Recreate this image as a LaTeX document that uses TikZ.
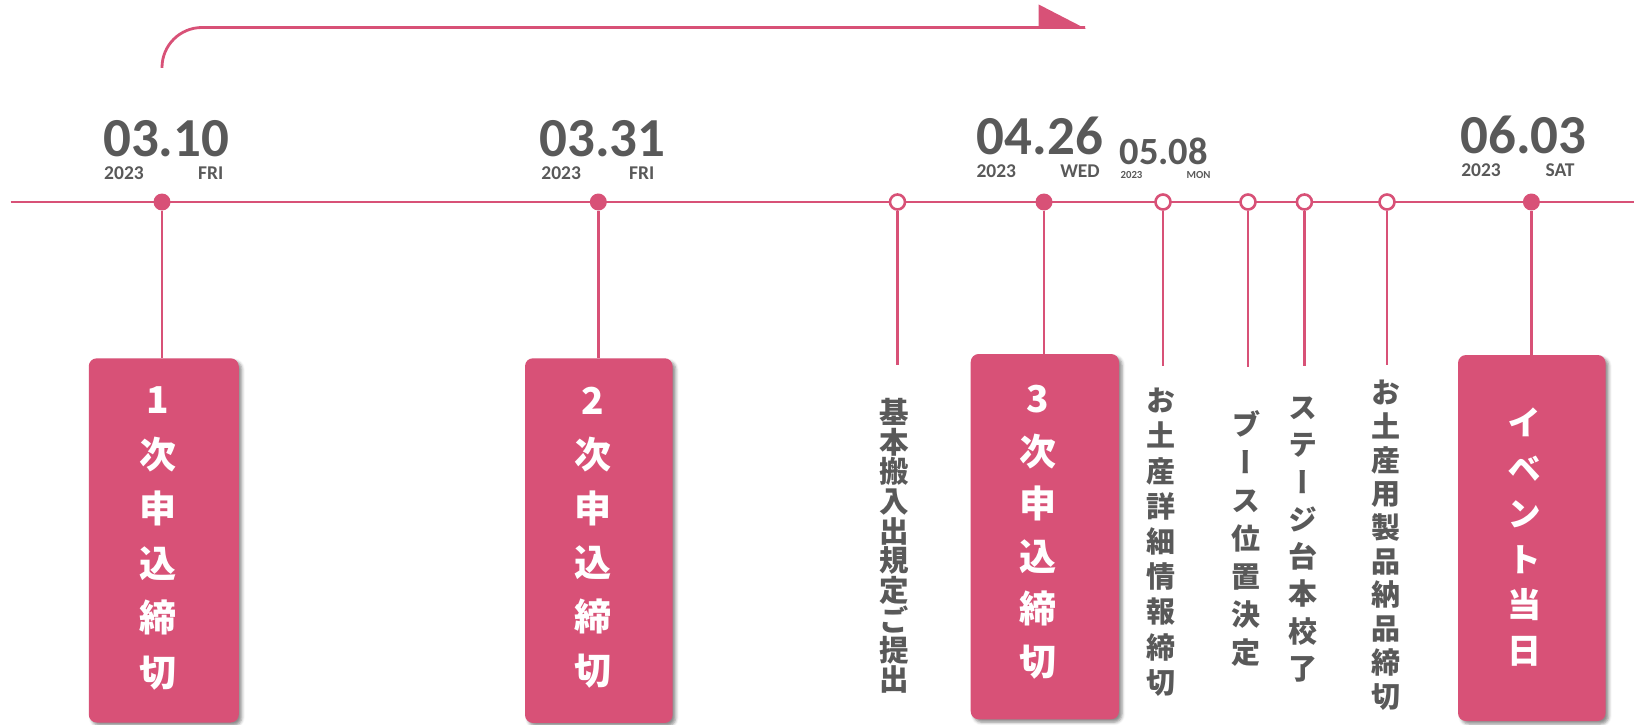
\documentclass[tikz,border=0pt]{standalone}
\usepackage{fontspec}
\setmainfont{Carlito}
\newfontfamily\jp{Noto Sans CJK JP}[RawFeature=+vert]
\usetikzlibrary{shadows.blur}
\definecolor{pk}{RGB}{216,81,119}
\definecolor{tg}{RGB}{89,89,89}
\tikzset{
  axisline/.style={draw=pk, line width=2.8bp},
  arrowline/.style={draw=pk, line width=2.8bp, rounded corners=40bp},
  fdot/.style={circle, fill=pk, inner sep=0pt, minimum size=17bp},
  odot/.style={circle, draw=pk, fill=white, line width=2.6bp, inner sep=0pt, minimum size=15bp},
  stem/.style={draw=pk, line width=2.6bp},
  pbox/.style={rounded corners=8bp, fill=pk, inner sep=0pt,
    blur shadow={shadow xshift=3bp, shadow yshift=-3bp, shadow blur radius=3bp, shadow opacity=45}},
  btxt/.style 2 args={text=white, align=center, inner sep=0pt, anchor=north,
    font=\jp\bfseries\fontsize{#1}{#2}\selectfont},
  ctxt/.style 2 args={text=tg, align=center, inner sep=0pt, anchor=north,
    font=\jp\bfseries\fontsize{#1}{#2}\selectfont},
  dtxt/.style={text=tg, inner sep=0pt, anchor=base, font=\bfseries\fontsize{#1}{#1}\selectfont},
}
\begin{document}
\begin{tikzpicture}[x=1bp,y=-1bp]
\useasboundingbox (0,0) rectangle (1640,725);
% top arrow
\coordinate (as) at (162,68);
\coordinate (ae) at (1085,27.5);
\draw[arrowline] (as) -- (as |- ae) -- (ae);
\fill[pk] (1038.7,4.5) -- (1086,28.9) -- (1038.7,28.9) -- cycle;
% axis
\coordinate (ax1) at (10.5,202);
\coordinate (ax2) at (1634,202);
\draw[axisline] (ax1) -- (ax2);
% dots
\node[fdot] (p1) at (162,202) {};
\node[fdot] (p2) at (598.3,202) {};
\node[odot] (p3) at (897.5,202) {};
\node[fdot] (p4) at (1044,202) {};
\node[odot] (p5) at (1163,202) {};
\node[odot] (p6) at (1248,202) {};
\node[odot] (p7) at (1304.4,202) {};
\node[odot] (p8) at (1387,202) {};
\node[fdot] (p9) at (1531.4,202) {};
% boxes
\node[pbox, minimum width=150bp, minimum height=364.2bp] (b1) at (163.75,540.4) {};
\node[pbox, minimum width=147.6bp, minimum height=364.7bp] (b2) at (598.8,540.6) {};
\node[pbox, minimum width=148.3bp, minimum height=365.3bp] (b3) at (1044.85,536.65) {};
\node[pbox, minimum width=147.6bp, minimum height=366bp] (b4) at (1531.8,538) {};
% stems
\coordinate (e3) at (897.5,365);
\coordinate (e5) at (1163,366);
\coordinate (e6) at (1248,366.7);
\coordinate (e7) at (1304.4,365.7);
\coordinate (e8) at (1387,365);
\draw[stem] (p1.south) -- (p1 |- b1.north);
\draw[stem] (p2.south) -- (p2 |- b2.north);
\draw[stem] (p3.south) -- (e3);
\draw[stem] (p4.south) -- (p4 |- b3.north);
\draw[stem] (p5.south) -- (e5);
\draw[stem] (p6.south) -- (e6);
\draw[stem] (p7.south) -- (e7);
\draw[stem] (p8.south) -- (e8);
\draw[stem] (p9.south) -- (p9 |- b4.north);
% box texts
\node[btxt={37bp}{54.5bp}] (t1) at (157.5,386.7) {1\\次\\申\\込\\締\\切};
\node[btxt={37bp}{54bp}] (t2) at (593,386.7) {2\\次\\申\\込\\締\\切};
\node[btxt={37bp}{52.5bp}] (t3) at (1038,385) {3\\次\\申\\込\\締\\切};
\node[btxt={34bp}{45.5bp}] (t4) at (1524,408) {イ\\ベ\\ン\\ト\\当\\日};
% column texts
\node[ctxt={29.5bp}{29.7bp}] (c3) at (894.7,398) {基\\本\\搬\\入\\出\\規\\定\\ご\\提\\出};
\node[ctxt={29bp}{35.2bp}] (c5) at (1160.6,388) {お\\土\\産\\詳\\細\\情\\報\\締\\切};
\node[ctxt={29bp}{38bp}] (c6) at (1245.5,410) {ブ\\ー\\ス\\位\\置\\決\\定};
\node[ctxt={29bp}{37.3bp}] (c7) at (1302.9,396.7) {ス\\テ\\ー\\ジ\\台\\本\\校\\了};
\node[ctxt={29bp}{33.7bp}] (c8) at (1385.5,380) {お\\土\\産\\用\\製\\品\\納\\品\\締\\切};
% dates
\node[dtxt=55bp] (d1) at (166.3,156.7) {03.10};
\node[dtxt=19.5bp] (y1) at (124,179) {2023};
\node[dtxt=19.5bp] (w1) at (210.7,179) {FRI};
\node[dtxt=55bp] (d2) at (602.5,156.7) {03.31};
\node[dtxt=19.5bp] (y2) at (561.2,179) {2023};
\node[dtxt=19.5bp] (w2) at (641.8,179) {FRI};
\node[dtxt=55bp] (d4) at (1039.8,155) {04.26};
\node[dtxt=19.5bp] (y4) at (996.3,177) {2023};
\node[dtxt=19.5bp] (w4) at (1080,177) {WED};
\node[dtxt=38.5bp] (d5) at (1163.7,164.3) {05.08};
\node[dtxt=10.8bp] (y5) at (1131.5,178) {2023};
\node[dtxt=10.8bp] (w5) at (1198.5,178) {MON};
\node[dtxt=55bp] (d9) at (1523.5,154) {06.03};
\node[dtxt=19.5bp] (y9) at (1481,176) {2023};
\node[dtxt=19.5bp] (w9) at (1560,176) {SAT};
\end{tikzpicture}
\end{document}
